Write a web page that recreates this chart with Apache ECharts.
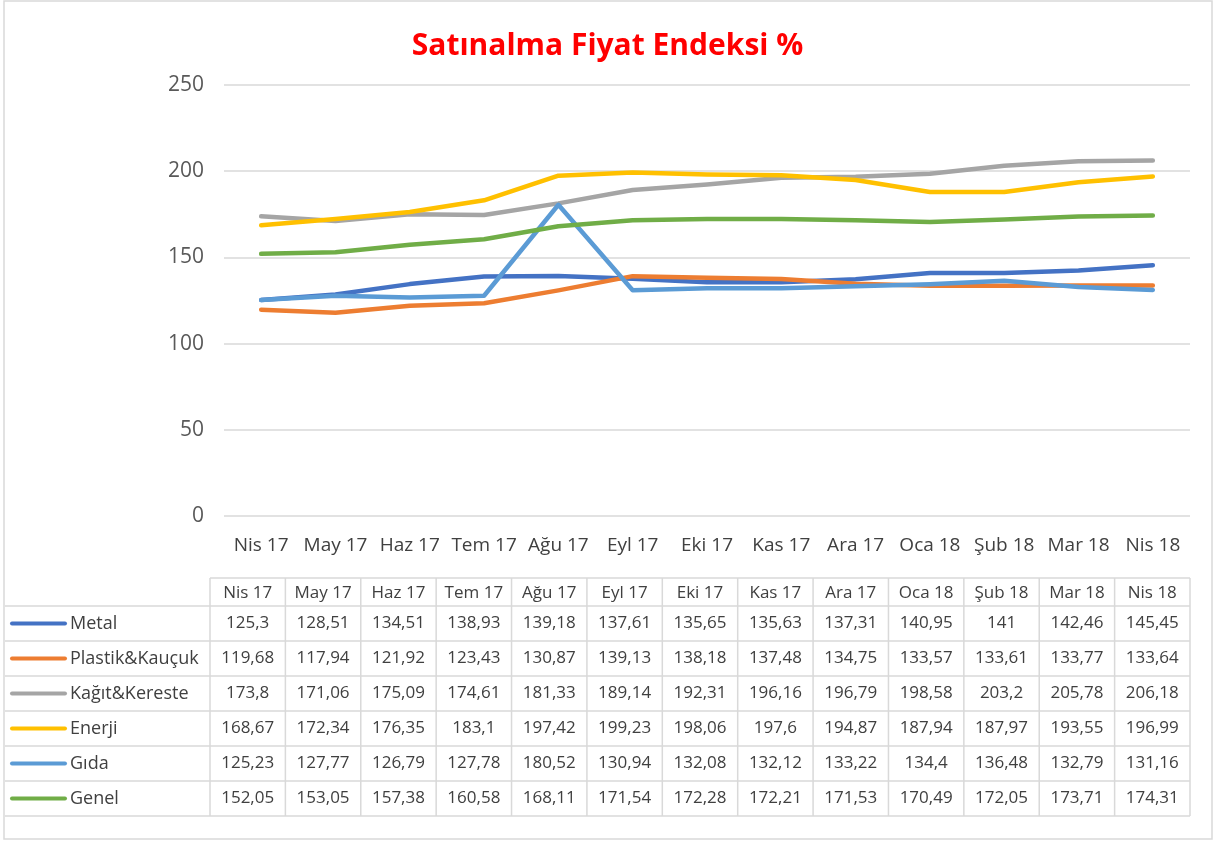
<!DOCTYPE html>
<html>
<head>
<meta charset="utf-8">
<script src="https://cdn.jsdelivr.net/npm/echarts@6/dist/echarts.min.js"></script>
<style>
  html, body { margin: 0; padding: 0; background: #fff; }
  #main { width: 1215px; height: 841px; }
</style>
</head>
<body>
<div id="main"></div>
<script>
// veriler
var months = ['Nis 17', 'May 17', 'Haz 17', 'Tem 17', 'Ağu 17', 'Eyl 17', 'Eki 17', 'Kas 17', 'Ara 17', 'Oca 18', 'Şub 18', 'Mar 18', 'Nis 18'];
var seriesNames = ['Metal', 'Plastik&Kauçuk', 'Kağıt&Kereste', 'Enerji', 'Gıda', 'Genel'];
var metal = [125.3, 128.51, 134.51, 138.93, 139.18, 137.61, 135.65, 135.63, 137.31, 140.95, 141, 142.46, 145.45];
var plastik = [119.68, 117.94, 121.92, 123.43, 130.87, 139.13, 138.18, 137.48, 134.75, 133.57, 133.61, 133.77, 133.64];
var kagit = [173.8, 171.06, 175.09, 174.61, 181.33, 189.14, 192.31, 196.16, 196.79, 198.58, 203.2, 205.78, 206.18];
var enerji = [168.67, 172.34, 176.35, 183.1, 197.42, 199.23, 198.06, 197.6, 194.87, 187.94, 187.97, 193.55, 196.99];
var gida = [125.23, 127.77, 126.79, 127.78, 180.52, 130.94, 132.08, 132.12, 133.22, 134.4, 136.48, 132.79, 131.16];
var genel = [152.05, 153.05, 157.38, 160.58, 168.11, 171.54, 172.28, 172.21, 171.53, 170.49, 172.05, 173.71, 174.31];
var yTicks = [0, 50, 100, 150, 200, 250];

var allData = [metal, plastik, kagit, enerji, gida, genel];
var colors = ['#4472C4', '#ED7D31', '#A5A5A5', '#FFC000', '#5B9BD5', '#70AD47'];

var chartDom = document.getElementById('main');
var myChart = echarts.init(chartDom);
var option;

var fontMain = 'Open Sans, Noto Sans, sans-serif';
var textCol = '#404040';
var lineCol = '#D9D9D9';

function fmt(v) {
  return String(v).replace('.', ',');
}

// tablo (veri tablosu) grafik elemanlari
var tblLeft = 210, tblRight = 1190, tblTop = 578, hdrH = 28, rowH = 35, legLeft = 5;
var colW = (tblRight - tblLeft) / months.length;
var graphics = [];

// dis cerceve
graphics.push({
  type: 'rect', shape: { x: 4, y: 1, width: 1208, height: 838 },
  style: { fill: 'none', stroke: lineCol, lineWidth: 1.5 }, silent: true
});

var bodyTop = tblTop + hdrH;
var bodyBottom = bodyTop + rowH * seriesNames.length;
function hline(x1, x2, y) {
  graphics.push({ type: 'line', shape: { x1: x1, y1: y, x2: x2, y2: y }, style: { stroke: lineCol, lineWidth: 1.5 }, silent: true });
}
function vline(x, y1, y2) {
  graphics.push({ type: 'line', shape: { x1: x, y1: y1, x2: x, y2: y2 }, style: { stroke: lineCol, lineWidth: 1.5 }, silent: true });
}
hline(tblLeft, tblRight, tblTop);
for (var r = 0; r <= seriesNames.length; r++) {
  hline(legLeft, tblRight, bodyTop + r * rowH);
}
for (var c = 0; c <= months.length; c++) {
  vline(tblLeft + c * colW, tblTop, bodyBottom);
}
months.forEach(function (m, i) {
  graphics.push({
    type: 'text', silent: true,
    style: { x: tblLeft + (i + 0.5) * colW, y: tblTop + hdrH / 2 + 1, text: m, fill: textCol, font: '17px ' + fontMain, align: 'center', verticalAlign: 'middle' }
  });
});
seriesNames.forEach(function (name, r) {
  var cy = bodyTop + (r + 0.5) * rowH;
  graphics.push({
    type: 'line', silent: true,
    shape: { x1: 12, y1: cy, x2: 65, y2: cy },
    style: { stroke: colors[r], lineWidth: 4, lineCap: 'round' }
  });
  graphics.push({
    type: 'text', silent: true,
    style: { x: 70, y: cy, text: name, fill: textCol, font: '18px ' + fontMain, align: 'left', verticalAlign: 'middle' }
  });
  allData[r].forEach(function (v, i) {
    graphics.push({
      type: 'text', silent: true,
      style: { x: tblLeft + (i + 0.5) * colW, y: cy, text: fmt(v), fill: textCol, font: '17px ' + fontMain, align: 'center', verticalAlign: 'middle' }
    });
  });
});

option = {
  backgroundColor: '#fff',
  animation: false,
  title: {
    text: 'Satınalma Fiyat Endeksi %',
    left: 'center',
    top: 26,
    textStyle: { color: '#FF0000', fontSize: 30, fontWeight: 'bold', fontFamily: fontMain }
  },
  grid: {
    left: 224,
    right: 25,
    top: 85,
    bottom: 325
  },
  xAxis: {
    type: 'category',
    boundaryGap: true,
    data: months,
    axisLine: { show: false },
    axisTick: { show: false },
    axisLabel: { color: textCol, fontSize: 19, fontFamily: fontMain, margin: 20, interval: 0 }
  },
  yAxis: {
    type: 'value',
    min: yTicks[0],
    max: yTicks[yTicks.length - 1],
    interval: 50,
    axisLine: { show: false },
    axisTick: { show: false },
    axisLabel: { color: '#595959', fontSize: 21, fontFamily: fontMain, margin: 20 },
    splitLine: { lineStyle: { color: lineCol, width: 1.5 } }
  },
  series: seriesNames.map(function (name, k) {
    return {
      name: name,
      type: 'line',
      data: allData[k],
      symbol: 'none',
      lineStyle: { color: colors[k], width: 4.5, cap: 'round', join: 'round' },
      itemStyle: { color: colors[k] }
    };
  }),
  graphic: graphics
};

option && myChart.setOption(option);
</script>
</body>
</html>
